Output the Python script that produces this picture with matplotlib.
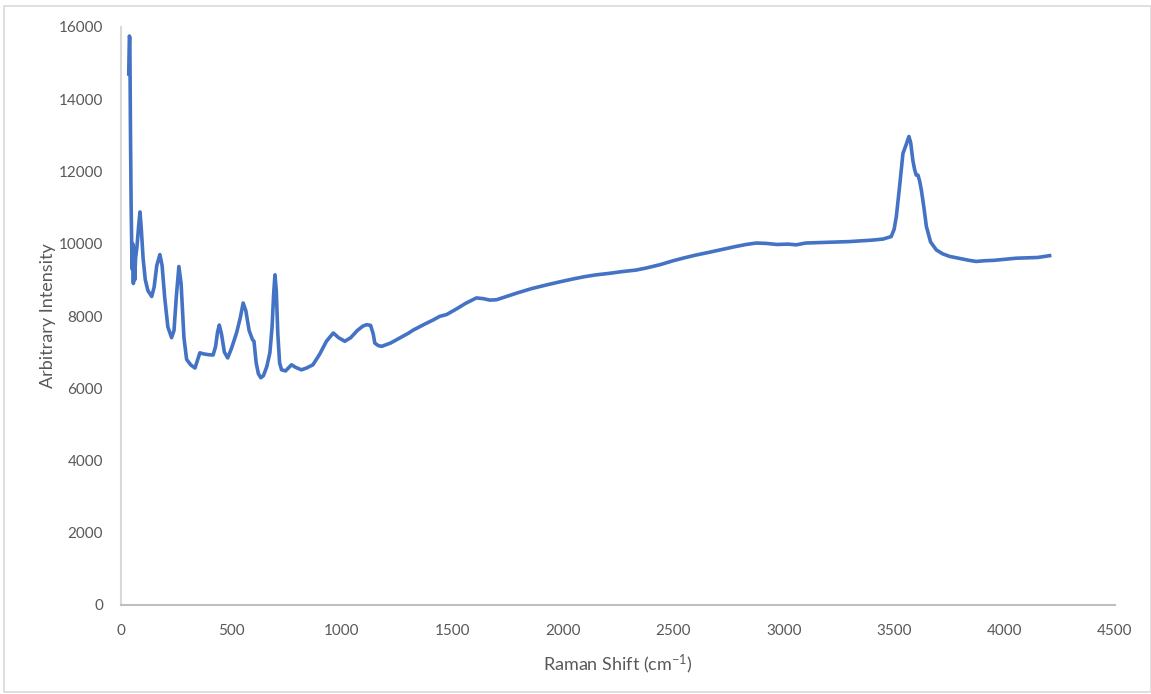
import matplotlib
matplotlib.use("Agg")
import matplotlib.pyplot as plt
from matplotlib.patches import Rectangle

# Raman spectrum (shift in cm^-1, arbitrary intensity)
shift = [35, 38, 40, 43, 46, 50, 53, 56, 59, 62, 66, 72, 80, 86, 92, 100, 110, 122,
         139, 150, 162, 176, 186, 198, 212, 229, 240, 250, 262, 272, 285, 297, 315,
         335, 345, 357, 375, 395, 417, 428, 437, 445, 455, 468, 483, 500, 523, 540,
         553, 565, 580, 595, 602, 612, 622, 633, 645, 660, 674, 684, 691, 697, 703,
         710, 718, 727, 745, 772, 790, 817, 840, 869, 900, 930, 961, 985, 1013, 1040,
         1070, 1095, 1112, 1130, 1142, 1149, 1165, 1180, 1220, 1262, 1300, 1323, 1370,
         1413, 1443, 1474, 1520, 1560, 1609, 1640, 1670, 1700, 1750, 1800, 1860, 1926,
         1990, 2050, 2100, 2152, 2210, 2270, 2330, 2379, 2440, 2500, 2550, 2605, 2660,
         2720, 2780, 2830, 2876, 2920, 2970, 3020, 3057, 3100, 3150, 3200, 3250, 3298,
         3350, 3400, 3450, 3487, 3500, 3510, 3525, 3540, 3555, 3567, 3575, 3585, 3593,
         3600, 3608, 3615, 3623, 3635, 3646, 3665, 3691, 3720, 3751, 3800, 3840, 3872,
         3910, 3950, 4000, 4053, 4100, 4150, 4204]
intensity = [14700, 15750, 15700, 13000, 11000, 9300, 10000, 8900, 9900, 9000, 9600,
             9900, 10500, 10880, 10400, 9600, 9000, 8700, 8540, 8800, 9400, 9700, 9400,
             8500, 7700, 7400, 7600, 8500, 9370, 8900, 7400, 6800, 6650, 6560, 6750,
             6980, 6950, 6930, 6920, 7150, 7550, 7750, 7500, 7000, 6840, 7100, 7530,
             7950, 8360, 8150, 7600, 7350, 7300, 6700, 6400, 6290, 6350, 6600, 6980,
             7700, 8600, 9140, 8700, 7500, 6700, 6510, 6480, 6650, 6580, 6510, 6560,
             6650, 6950, 7300, 7530, 7400, 7300, 7400, 7600, 7720, 7760, 7740, 7500,
             7250, 7180, 7160, 7250, 7390, 7520, 7610, 7760, 7890, 7990, 8040, 8200,
             8350, 8500, 8480, 8440, 8450, 8550, 8650, 8760, 8860, 8950, 9030, 9090,
             9140, 9180, 9230, 9270, 9330, 9420, 9530, 9610, 9690, 9760, 9840, 9920,
             9980, 10020, 10010, 9980, 9990, 9970, 10020, 10030, 10040, 10050, 10060,
             10080, 10100, 10130, 10200, 10400, 10750, 11600, 12500, 12750, 12970,
             12800, 12300, 12050, 11900, 11900, 11750, 11500, 11000, 10480, 10050,
             9830, 9720, 9650, 9590, 9540, 9510, 9530, 9540, 9570, 9600, 9610, 9620,
             9670]

x_ticks = [0, 500, 1000, 1500, 2000, 2500, 3000, 3500, 4000, 4500]
y_ticks = [0, 2000, 4000, 6000, 8000, 10000, 12000, 14000, 16000]

plt.rcParams['font.family'] = ['Lato', 'DejaVu Sans']
plt.rcParams['mathtext.fontset'] = 'custom'
plt.rcParams['mathtext.rm'] = 'Lato'
plt.rcParams['mathtext.it'] = 'Lato:italic'
text_color = '#595959'

fig = plt.figure(figsize=(11.51, 6.94), dpi=100)
fig.patch.set_facecolor('white')
fig.patches.append(Rectangle((4 / 1151, 2 / 694), 1 - 4 / 1151, 1 - 8 / 694,
                             transform=fig.transFigure, fill=False,
                             edgecolor='#d9d9d9', linewidth=1.2))

ax = fig.add_axes([121 / 1151, 1 - 605 / 694, (1115 - 121) / 1151, (605 - 27) / 694])
ax.plot(shift, intensity, color='#4472C4', linewidth=2.6, solid_joinstyle='round')

ax.set_xlim(0, 4500)
ax.set_ylim(0, 16000)
ax.set_xticks(x_ticks)
ax.set_yticks(y_ticks)
ax.set_xticklabels([str(v) for v in x_ticks])
ax.set_yticklabels([str(v) for v in y_ticks])
ax.tick_params(length=0, labelsize=11, colors=text_color)
ax.tick_params(axis='x', pad=14)
ax.tick_params(axis='y', pad=13)

for side in ['top', 'right']:
    ax.spines[side].set_visible(False)
ax.spines['left'].set_color('#d9d9d9')
ax.spines['bottom'].set_color('#bfbfbf')
ax.spines['left'].set_linewidth(1.5)
ax.spines['bottom'].set_linewidth(1.5)

ax.set_xlabel('Raman Shift (cm$^{-1}$)', fontsize=13, color=text_color, labelpad=10)
ax.set_ylabel('Arbitrary Intensity', fontsize=13, color=text_color, labelpad=2)

fig.savefig('out.png', dpi=100)
